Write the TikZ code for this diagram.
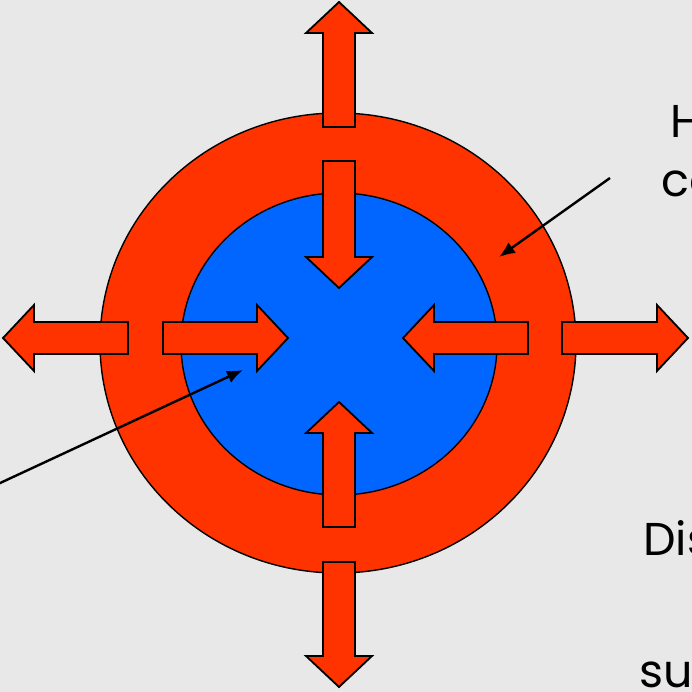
\documentclass[tikz,border=0pt]{standalone}
\usepackage{fontspec}
\setmainfont{Poppins}
\usetikzlibrary{arrows.meta}
\definecolor{hotred}{RGB}{255,51,0}
\definecolor{coreblue}{RGB}{0,102,255}
\definecolor{slidegray}{RGB}{232,232,232}
\tikzset{
  blockarrow/.style={fill=hotred, draw=black, line width=1.8pt, line join=miter},
  pointer/.style={line width=2.4pt, -{Latex[length=16pt,width=13pt]}},
  label/.style={font=\fontsize{46}{50}\selectfont, anchor=base west, inner sep=0pt}
}
\begin{document}
\begin{tikzpicture}[x=1pt, y=-1pt]
  \useasboundingbox (0,0) rectangle (692,692);
  \clip (0,0) rectangle (692,692);
  \fill[slidegray] (0,0) rectangle (692,692);

  % layers
  \draw[fill=hotred, line width=1.4pt] (338,343) ellipse [x radius=238pt, y radius=230pt];
  \draw[fill=coreblue, line width=1.4pt] (339,344) ellipse [x radius=158pt, y radius=151pt];

  % heat flow arrows: start x/start y/angle/length
  \foreach \px/\py/\ang/\len in {339/127/90/125, 339/161/-90/127,
      128/338/180/125, 163/338/0/125, 528/338/180/125, 562/338/0/126,
      339/527/90/125, 339/562/-90/125}
    \draw[blockarrow, shift={(\px,\py)}, rotate=\ang]
      (0,-16) -- (\len-31,-16) -- (\len-31,-33) -- (\len,0)
      -- (\len-31,33) -- (\len-31,16) -- (0,16) -- cycle;

  % labels
  \node[label] (hot) at (670,138) {H};
  \node[label] (core) at (661,197) {co};
  \node[label] (dist) at (643,555) {Dis};
  \node[label] (sun) at (639,687) {sun};

  \coordinate (p1) at (610,178);
  \coordinate (t1) at (499,257);
  \coordinate (p2) at (-2,484);
  \coordinate (t2) at (243,370);
  \draw[pointer] (p1) -- (t1);
  \draw[pointer] (p2) -- (t2);
\end{tikzpicture}
\end{document}
